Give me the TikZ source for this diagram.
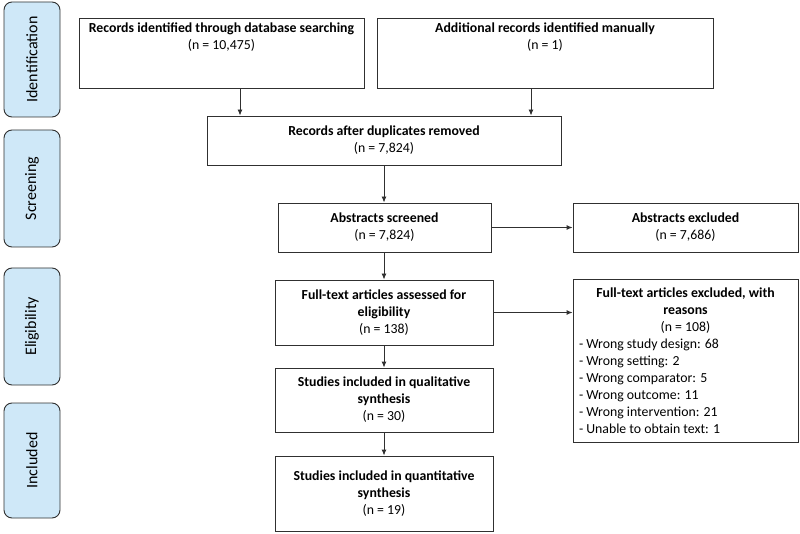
\documentclass[tikz,border=0pt]{standalone}
\usepackage{fontspec}
\setmainfont{Carlito}
\usetikzlibrary{arrows.meta,calc}
\definecolor{sidefill}{HTML}{CFE8F8}
\definecolor{lineclr}{HTML}{303030}
\begin{document}
\begin{tikzpicture}[x=1pt,y=-1pt,
  box/.style={draw=lineclr, line width=0.9pt, align=center, inner sep=0pt,
    font=\fontsize{13.8}{17}\selectfont},
  side/.style={draw=lineclr, line width=0.9pt, fill=sidefill, rounded corners=8pt,
    rotate=90, inner sep=0pt, minimum height=56pt,
    font=\fontsize{16}{19}\selectfont},
  arr/.style={draw=lineclr, line width=0.9pt, -{Latex[length=6pt,width=5pt]}}]
\useasboundingbox (0,0) rectangle (800,534);
% side labels
\node[side, minimum width=115pt] (sid) at (32,59.5) {Identification};
\node[side, minimum width=117pt] (ssc) at (32,188.5) {Screening};
\node[side, minimum width=117pt] (sel) at (32,326.5) {Eligibility};
\node[side, minimum width=115pt] (sin) at (32,460.5) {Included};
% boxes
\node[box, minimum width=285pt, minimum height=70pt] (b1) at (221.5,53)
  {\parbox[c][70pt][t]{285pt}{\centering\vspace*{5pt}\textbf{Records identified through database searching}\\(n = 10,475)}};
\node[box, minimum width=336pt, minimum height=70pt] (b2) at (545,53)
  {\parbox[c][70pt][t]{336pt}{\centering\vspace*{5pt}\textbf{Additional records identified manually}\\(n = 1)}};
\node[box, minimum width=354pt, minimum height=49pt] (b3) at (384,140.5)
  {\textbf{Records after duplicates removed}\\(n = 7,824)};
\node[box, minimum width=213pt, minimum height=49pt] (b4) at (384.5,227.5)
  {\textbf{Abstracts screened}\\(n = 7,824)};
\node[box, minimum width=225pt, minimum height=49pt] (b5) at (685.5,227.5)
  {\textbf{Abstracts excluded}\\(n = 7,686)};
\node[box, minimum width=218pt, minimum height=65pt] (b6) at (384,312.5)
  {\textbf{Full-text articles assessed for}\\\textbf{eligibility}\\(n = 138)};
\node[box, minimum width=225pt, minimum height=163pt] (b7) at (685.5,360.5)
  {\begin{minipage}{213pt}\centering
   \textbf{Full-text articles excluded, with}\\\textbf{reasons}\\(n = 108)\par
   \raggedright
   - Wrong study design: 68\\
   - Wrong setting: 2\\
   - Wrong comparator: 5\\
   - Wrong outcome: 11\\
   - Wrong intervention: 21\\
   - Unable to obtain text: 1
   \end{minipage}};
\node[box, minimum width=218pt, minimum height=64pt] (b8) at (384,400)
  {\textbf{Studies included in qualitative}\\\textbf{synthesis}\\(n = 30)};
\node[box, minimum width=218pt, minimum height=75pt] (b9) at (384,493.5)
  {\textbf{Studies included in quantitative}\\\textbf{synthesis}\\(n = 19)};
% connectors
\coordinate (c1) at (240,0);
\coordinate (c2) at (531,0);
\draw[arr] (b1.south -| c1) -- (b3.north -| c1);
\draw[arr] (b2.south -| c2) -- (b3.north -| c2);
\draw[arr] (b3.south) -- (b3.south |- b4.north);
\draw[arr] (b4.east) -- (b4.east -| b5.west);
\draw[arr] (b4.south -| b6.north) -- (b6.north);
\draw[arr] (b6.east) -- (b6.east -| b7.west);
\draw[arr] (b6.south) -- (b8.north);
\draw[arr] (b8.south) -- (b9.north);
\end{tikzpicture}
\end{document}
